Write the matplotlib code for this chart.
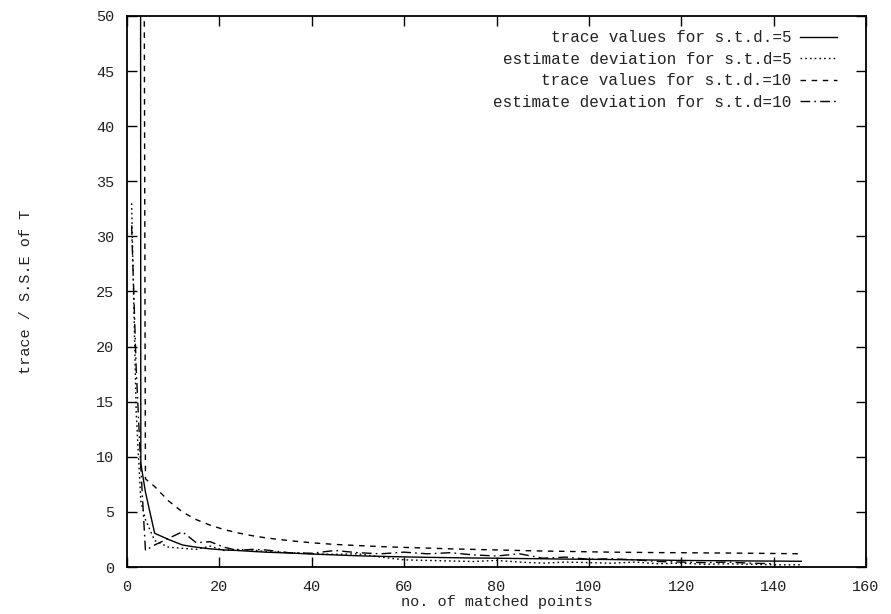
"""
plot.py - trace and S.S.E of T against number of matched points.
"""

import matplotlib
matplotlib.use("Agg")
import matplotlib.pyplot as plt

# number of matched points
n_points = [1, 2, 3, 4, 6, 9, 12, 15, 18, 21, 24, 27, 30, 35, 40, 45, 50,
            55, 60, 65, 70, 75, 80, 85, 90, 95, 100, 105, 110, 115, 120,
            125, 130, 135, 140, 146]

trace_std5 = [2000, 820, 9.4, 6.8, 3.06, 2.5, 2.0, 1.8, 1.65, 1.55, 1.5,
              1.42, 1.35, 1.27, 1.18, 1.1, 1.02, 0.97, 0.92, 0.88, 0.85,
              0.82, 0.8, 0.77, 0.75, 0.72, 0.7, 0.68, 0.65, 0.63, 0.6, 0.58,
              0.57, 0.55, 0.54, 0.52]

est_std5 = [33.0, 14.0, 6.0, 4.3, 2.4, 1.8, 1.7, 1.6, 1.9, 1.5, 1.6, 1.55,
            1.4, 1.3, 1.2, 1.15, 1.2, 0.9, 0.65, 0.6, 0.55, 0.5, 0.6, 0.45,
            0.35, 0.45, 0.4, 0.35, 0.45, 0.3, 0.35, 0.25, 0.3, 0.25, 0.2,
            0.2]

trace_std10 = [3000, 1500, 176, 8.0, 7.3, 6.0, 5.0, 4.3, 3.8, 3.4, 3.1,
               2.85, 2.65, 2.4, 2.2, 2.05, 1.95, 1.85, 1.78, 1.72, 1.65,
               1.6, 1.55, 1.5, 1.45, 1.42, 1.38, 1.35, 1.33, 1.31, 1.3,
               1.28, 1.27, 1.25, 1.23, 1.2]

est_std10 = [31.0, 18.0, 9.0, 1.5, 2.0, 2.6, 3.2, 2.2, 2.3, 1.8, 1.5, 1.6,
             1.55, 1.3, 1.25, 1.5, 1.3, 1.2, 1.35, 1.2, 1.3, 1.1, 1.0, 1.2,
             0.8, 0.9, 0.7, 0.75, 0.65, 0.5, 0.45, 0.4, 0.45, 0.35, 0.3,
             None]

FONT = "Liberation Mono"
TEXT = "#222222"


def plot():
    fig = plt.figure(figsize=(8.91, 6.14), dpi=100)
    ax = fig.add_axes([0.1425, 0.0765, 0.8295, 0.8975])

    est10_x = [x for x, v in zip(n_points, est_std10) if v is not None]
    est10_y = [v for v in est_std10 if v is not None]

    ax.plot(n_points, trace_std5, color="black", linewidth=1.0,
            linestyle="-", label="trace values for s.t.d.=5")
    ax.plot(n_points, est_std5, color="black", linewidth=1.0,
            linestyle=(0, (1.2, 2.2)), label="estimate deviation for s.t.d=5")
    ax.plot(n_points, trace_std10, color="black", linewidth=1.0,
            linestyle=(0, (4, 4)), label="trace values for s.t.d.=10")
    ax.plot(est10_x, est10_y, color="black", linewidth=1.0,
            linestyle=(0, (7, 3, 1.2, 3)), label="estimate deviation for s.t.d=10")

    ax.set_xlim(0, 160)
    ax.set_ylim(0, 50)
    ax.set_xticks(range(0, 161, 20))
    ax.set_yticks(range(0, 51, 5))

    ax.tick_params(direction="in", length=7, width=1.0, top=True, right=True,
                   labelsize=11, colors="black", labelcolor=TEXT, pad=9)
    for lab in ax.get_xticklabels() + ax.get_yticklabels():
        lab.set_fontfamily(FONT)
    for sp in ax.spines.values():
        sp.set_linewidth(1.3)

    ax.set_xlabel("no. of matched points", fontsize=11, family=FONT,
                  color=TEXT, labelpad=1)
    ax.set_ylabel("trace / S.S.E of T", fontsize=11, family=FONT, color=TEXT)
    ax.yaxis.set_label_coords(-0.127, 0.5)

    leg = ax.legend(loc="upper right", frameon=False, markerfirst=False,
                    prop={"family": FONT, "size": 11.5}, handlelength=2.3,
                    handletextpad=0.55, labelspacing=0.4,
                    bbox_to_anchor=(0.98, 1.0))
    for t in leg.get_texts():
        t.set_color(TEXT)

    fig.savefig("out.png", dpi=100)


if __name__ == "__main__":
    plot()
